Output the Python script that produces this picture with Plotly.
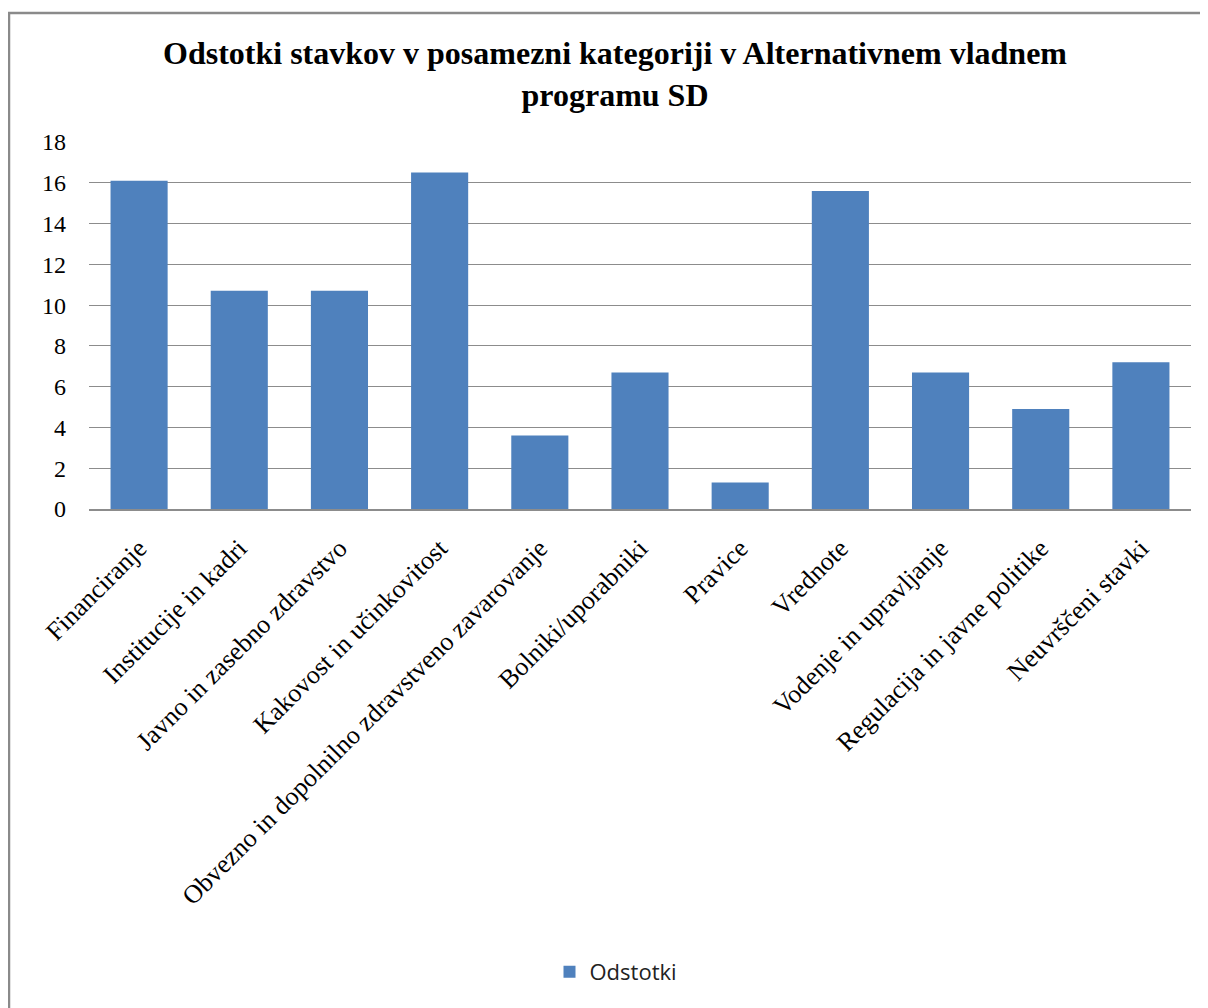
import plotly.graph_objects as go

categories = [
    "Financiranje",
    "Institucije in kadri",
    "Javno in zasebno zdravstvo",
    "Kakovost in učinkovitost",
    "Obvezno in dopolnilno zdravstveno zavarovanje",
    "Bolniki/uporabniki",
    "Pravice",
    "Vrednote",
    "Vodenje in upravljanje",
    "Regulacija in javne politike",
    "Neuvrščeni stavki",
]
odstotki = [16.1, 10.7, 10.7, 16.5, 3.6, 6.7, 1.3, 15.6, 6.7, 4.9, 7.2]
y_ticks = [0, 2, 4, 6, 8, 10, 12, 14, 16, 18]

serif = "Liberation Serif, Times New Roman, serif"

fig = go.Figure()
fig.add_trace(go.Bar(
    x=categories,
    y=odstotki,
    name="Odstotki",
    marker=dict(color="#4F81BD", line=dict(width=0)),
    showlegend=True,
))

# the page body adds an 8px offset; reference pixel coordinates are shifted by it
OFF = 8
W, H = 1200, 1000
ml, mr, mt, mb = 89 - OFF, 1208 - 1191, 142 - OFF, 1008 - 509
pw = W - ml - mr
ph = H - mt - mb

def px_x(p):
    return (p - OFF - ml) / pw

def px_y(p):
    return (H - mb - (p - OFF)) / ph

fig.update_layout(
    width=W,
    height=H,
    margin=dict(l=ml, r=mr, t=mt, b=mb, autoexpand=False),
    paper_bgcolor="white",
    plot_bgcolor="white",
    bargap=0.43,
    title=dict(
        text="Odstotki stavkov v posamezni kategoriji v Alternativnem vladnem<br>programu SD",
        font=dict(family=serif, size=32, color="black", weight="bold"),
        x=(615 - OFF) / W,
        xanchor="center",
        y=1 - (64 - OFF) / H,
        yanchor="middle",
    ),
    xaxis=dict(
        tickangle=-45,
        tickfont=dict(family=serif, size=26, color="black"),
        showline=True,
        linecolor="#8c8c8c",
        linewidth=1.5,
        showgrid=False,
        ticks="",
        ticklabelstandoff=12,
        fixedrange=True,
    ),
    yaxis=dict(
        range=[0, 18],
        tickvals=y_ticks,
        tickfont=dict(family=serif, size=24, color="black"),
        showgrid=True,
        gridcolor="#8c8c8c",
        gridwidth=1.2,
        zeroline=False,
        showline=False,
        ticks="",
        ticklabelstandoff=22,
        fixedrange=True,
    ),
    legend=dict(
        orientation="h",
        x=px_x(616),
        xanchor="center",
        y=px_y(972),
        yanchor="middle",
        font=dict(family="Open Sans, Liberation Sans, sans-serif", size=22, color="#222"),
        itemsizing="constant",
    ),
    shapes=[
        dict(
            type="rect",
            xref="paper", yref="paper",
            x0=px_x(9), x1=px_x(1205),
            y0=px_y(1012), y1=px_y(13),
            line=dict(color="#8a8a8a", width=2.5),
            fillcolor="rgba(0,0,0,0)",
            layer="below",
        )
    ],
)

fig.write_html("out.html")
